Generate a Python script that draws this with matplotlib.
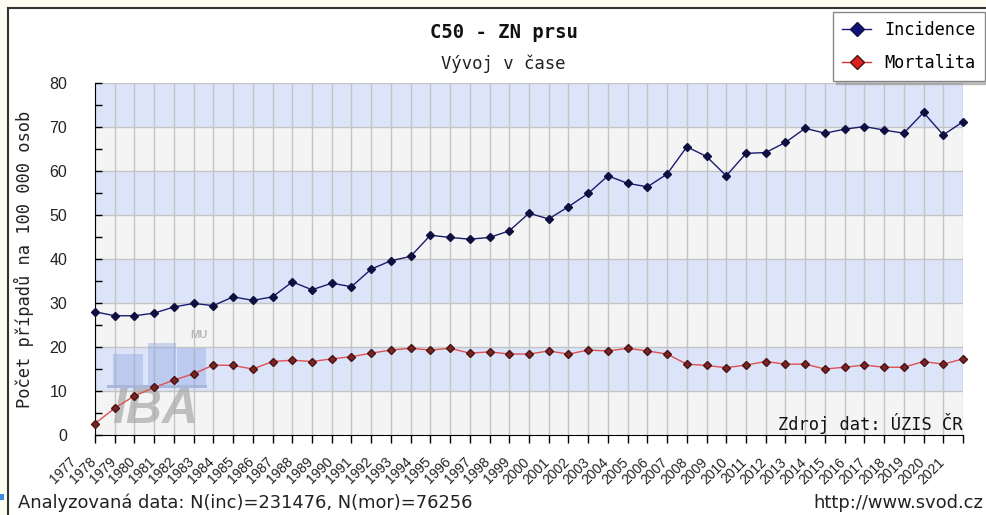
import matplotlib
matplotlib.use("Agg")
import matplotlib.pyplot as plt
import matplotlib.transforms as mtrans
from matplotlib.patches import Rectangle
from matplotlib.lines import Line2D

# data (per 100 000 persons)
years = list(range(1977, 2022))
incidence = [28.0, 27.1, 27.1, 27.7, 29.1, 29.9, 29.4, 31.4, 30.6, 31.4,
             34.8, 33.0, 34.5, 33.7, 37.7, 39.6, 40.6, 45.4, 44.9, 44.5,
             44.9, 46.4, 50.4, 49.1, 51.9, 54.9, 58.9, 57.2, 56.4, 59.3,
             65.5, 63.3, 58.9, 64.0, 64.2, 66.5, 69.7, 68.6, 69.5, 70.1,
             69.3, 68.6, 73.3, 68.2, 71.2]
mortality = [2.6, 6.1, 8.9, 10.8, 12.5, 13.9, 15.9, 15.8, 15.0, 16.7,
             17.0, 16.7, 17.3, 17.8, 18.6, 19.3, 19.7, 19.3, 19.7, 18.6,
             18.9, 18.4, 18.4, 19.1, 18.4, 19.3, 19.1, 19.7, 19.1, 18.4,
             16.1, 15.8, 15.3, 15.9, 16.7, 16.1, 16.1, 15.0, 15.4, 15.9,
             15.4, 15.4, 16.7, 16.1, 17.3]
series_names = ["Incidence", "Mortalita"]
title = "C50 - ZN prsu"
subtitle = "Vývoj v čase"
ylabel = "Počet případů na 100 000 osob"
source = "Zdroj dat: ÚZIS ČR"
footer_left = "Analyzovaná data: N(inc)=231476, N(mor)=76256"
footer_right = "http://www.svod.cz"

W, H = 986, 515
fig = plt.figure(figsize=(W / 100, H / 100), dpi=100)
fig.patch.set_facecolor("#fdfdf2")

# white chart frame with dark top/left border
fig.patches.append(Rectangle((8 / W, 0), 1, 1 - 8 / H, transform=fig.transFigure,
                             facecolor="white", edgecolor="none", zorder=-5))
fig.lines.append(Line2D([7.5 / W, 7.5 / W], [0, 1 - 7.5 / H], transform=fig.transFigure,
                        color="#333333", lw=1.5))
fig.lines.append(Line2D([7.5 / W, 1], [1 - 7.5 / H, 1 - 7.5 / H], transform=fig.transFigure,
                        color="#333333", lw=1.5))
fig.patches.append(Rectangle((0, 1 - 500 / H), 4 / W, 6 / H, transform=fig.transFigure,
                             facecolor="#3b8fe0", edgecolor="none"))

ax = fig.add_axes([95 / W, 1 - 435 / H, 868 / W, 352 / H])
ax.set_facecolor("none")
ax.set_xlim(years[0], years[-1])
ax.set_ylim(0, 80)

# alternating horizontal bands
for lo in range(0, 80, 10):
    col = "#dce4fa" if (lo // 10) % 2 == 1 else "#f4f4f4"
    ax.axhspan(lo, lo + 10, color=col, lw=0, zorder=0)
for y in years:
    ax.axvline(y, color="#c4c4c4", lw=1, zorder=1)
for v in range(10, 81, 10):
    ax.axhline(v, color="#c4c4c4", lw=1, zorder=1)

# IBA watermark
wm = dict(transform=ax.transAxes, zorder=2)
for x0, x1, top in [(113, 143, 354), (148, 176, 343), (177, 206, 348)]:
    ax.add_patch(Rectangle(((x0 - 95) / 868, (435 - 385) / 352), (x1 - x0) / 868,
                           (385 - top) / 352, facecolor="#8aa3de", alpha=0.4,
                           edgecolor="none", **wm))
ax.add_patch(Rectangle(((107 - 95) / 868, (435 - 388) / 352), 100 / 868, 3 / 352,
                       facecolor="#8a9cc8", alpha=0.6, edgecolor="none", **wm))
ax.text((112 - 95) / 868, (435 - 410) / 352, "IBA", fontsize=36, fontweight="bold",
        fontstyle="italic", family="Liberation Sans", color="#a8a8a8", alpha=0.7,
        va="center", ha="left", **wm)
ax.text((190 - 95) / 868, (435 - 335) / 352, "MU", fontsize=8, fontweight="bold",
        family="Liberation Sans", color="#b8b8b8", va="center", ha="left", **wm)

ax.plot(years, incidence, color="#1a1a70", lw=1, marker="D", ms=4.5,
        mfc="#101040", mec="#101040", zorder=4, clip_on=False, label=series_names[0])
ax.plot(years, mortality, color="#e05050", lw=1, marker="D", ms=4.5,
        mfc="#7a2424", mec="#4a1414", zorder=4, clip_on=False, label=series_names[1])

for s in ["top", "right"]:
    ax.spines[s].set_visible(False)
ax.spines["left"].set_color("black")
ax.spines["bottom"].set_color("black")

ax.set_yticks(range(0, 81, 10))
ax.set_yticks(range(5, 80, 10), minor=True)
ax.tick_params(axis="y", which="both", direction="in", length=5, width=1,
               pad=20, labelsize=11.5)
for lab in ax.get_yticklabels():
    lab.set_family("Liberation Sans")
    lab.set_color("#222222")

ax.set_xticks(years)
ax.set_xticklabels([str(y) for y in years], rotation=45, ha="right", va="top",
                   fontsize=10, family="Liberation Sans", color="#222222")
ax.tick_params(axis="x", direction="out", length=6, width=1, pad=8.3)
shift = mtrans.ScaledTranslation(-0.16, 0, fig.dpi_scale_trans)
for lab in ax.get_xticklabels():
    lab.set_transform(lab.get_transform() + shift)

ax.set_ylabel(ylabel, fontsize=12.3, family="DejaVu Sans Mono", color="#222222")
ax.yaxis.set_label_coords(-(95 - 34) / 868, 0.5)

ax.text(1 - 1 / 868, (435 - 424) / 352, source, transform=ax.transAxes,
        ha="right", va="center", fontsize=12.3, family="DejaVu Sans Mono",
        color="#111111", zorder=5)

fig.text(504 / W, 1 - 32 / H, title, ha="center", va="center", fontsize=13.6,
         fontweight="bold", family="DejaVu Sans Mono", color="#111111")
fig.text(503 / W, 1 - 64 / H, subtitle, ha="center", va="center", fontsize=12.4,
         family="DejaVu Sans Mono", color="#222222")

leg = fig.legend(loc="upper left", bbox_to_anchor=(833 / W, 1 - 12 / H),
                 bbox_transform=fig.transFigure, frameon=True, fancybox=False,
                 shadow={"color": "#999999", "alpha": 0.6}, handlelength=1.7,
                 handletextpad=0.8, labelspacing=0.85, borderpad=0.55,
                 borderaxespad=0, markerscale=1.6,
                 prop={"family": "DejaVu Sans Mono", "size": 12.2})
leg.get_frame().set_edgecolor("#888888")
leg.get_frame().set_linewidth(1)
leg.get_frame().set_alpha(1)
leg.legend_handles[0].set_markerfacecolor("#10107a")
leg.legend_handles[1].set_markerfacecolor("#dd2020")
leg.legend_handles[1].set_color("#dd3030")

fig.text(18 / W, 1 - 503 / H, footer_left, ha="left", va="center", fontsize=12.9,
         family="DejaVu Sans", color="#222222")
fig.text(983 / W, 1 - 503 / H, footer_right, ha="right", va="center", fontsize=12.9,
         family="DejaVu Sans", color="#222222")

fig.savefig("out.png", dpi=100, facecolor=fig.get_facecolor())
